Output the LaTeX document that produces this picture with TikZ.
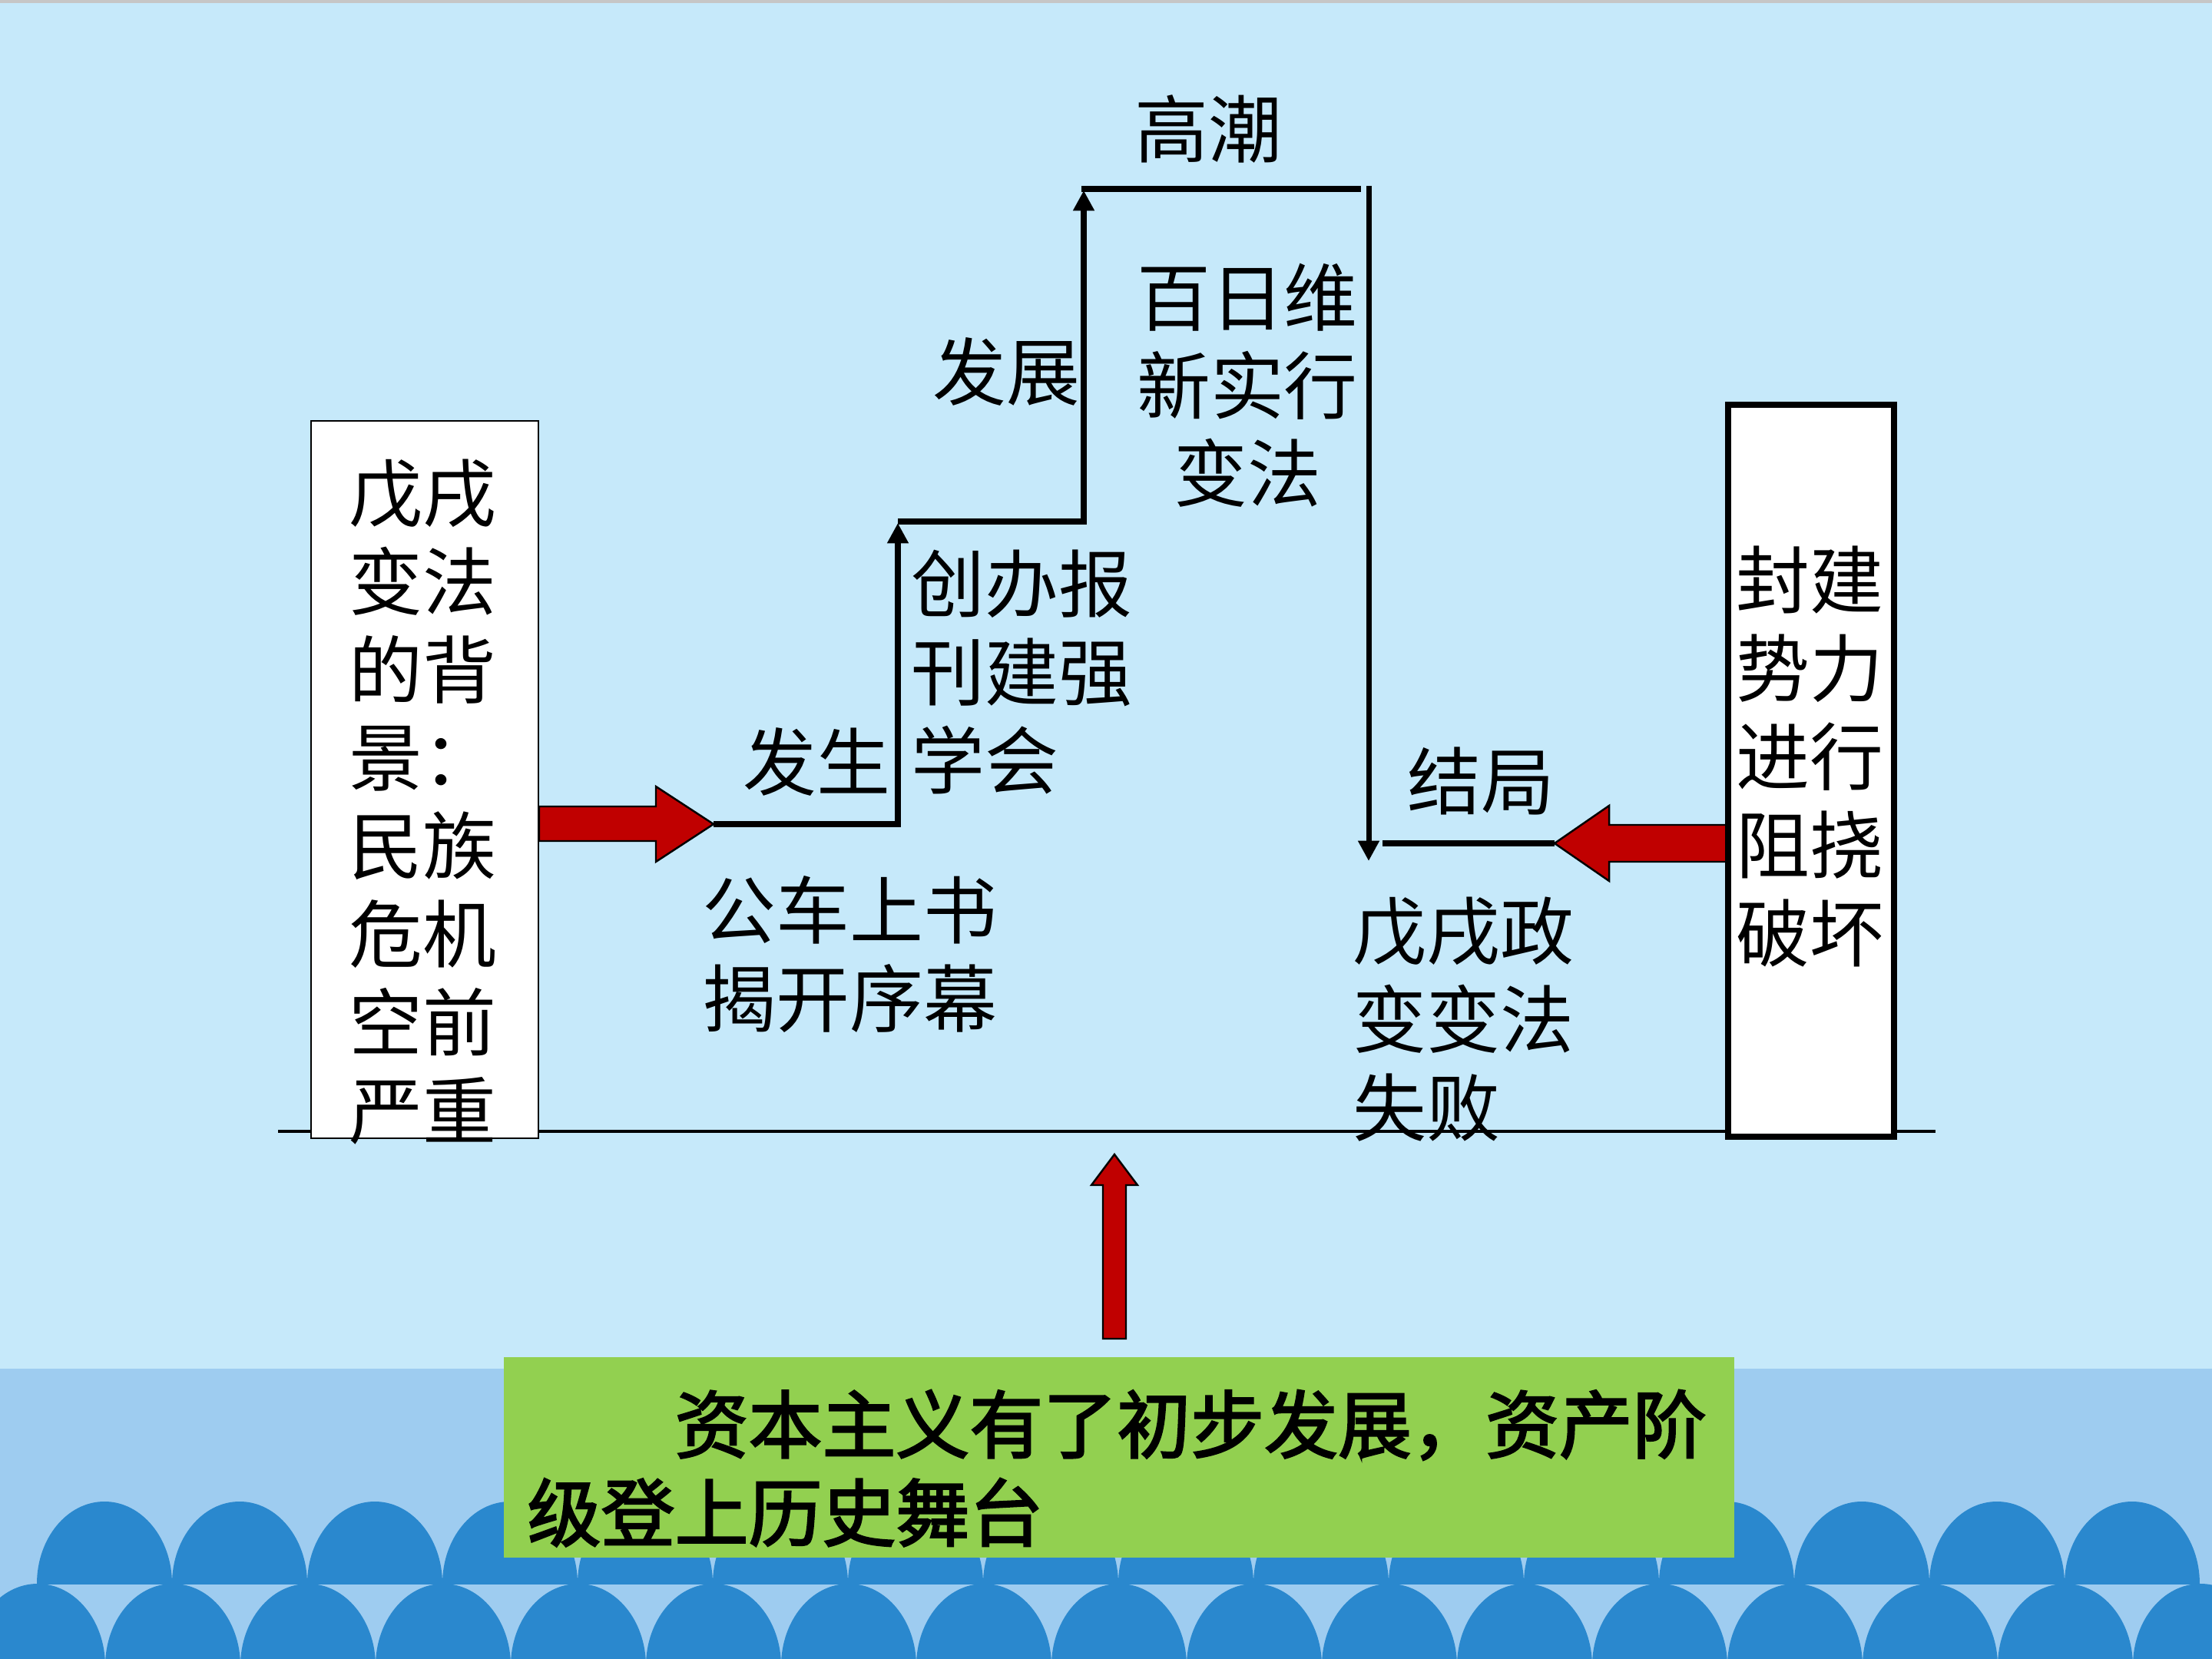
\documentclass[tikz,border=0pt]{standalone}
\usepackage{fontspec}
\setmainfont{Noto Sans CJK SC}
\newfontfamily\capfont[FakeBold=2.5]{Noto Sans CJK SC}
\usetikzlibrary{arrows.meta}

\definecolor{skyback}{RGB}{198,233,250}
\definecolor{seaband}{RGB}{158,204,240}
\definecolor{wavefill}{RGB}{42,136,206}
\definecolor{capgreen}{RGB}{146,208,80}
\definecolor{pushred}{RGB}{192,0,0}

\begin{document}
\begin{tikzpicture}[x=1cm,y=-1cm,
    txt/.style={font=\fontsize{27.3pt}{32.7pt}\selectfont,inner sep=0pt,align=left},
    stairline/.style={line width=2pt},
    stairrise/.style={line width=2pt,-{Triangle[width=7.5pt,length=7.5pt]}},
    pusharrow/.style={fill=pushred,draw=black,line width=0.7pt},
    panel/.style={draw,fill=white,inner sep=0pt,outer sep=0pt,anchor=north west}]
  \useasboundingbox (0,0) rectangle (28.8,21.6);
  \fill[skyback] (0,0) rectangle (28.8,21.6);
  \fill[gray!45] (0,0) rectangle (28.8,0.04);

  % sea band, two rows of waves
  \fill[seaband] (0,17.82) rectangle (28.8,21.6);
  \begin{scope}
    \clip (0,17.82) rectangle (28.8,20.62);
    \foreach \i in {0,...,15}
      \fill[wavefill] (1.36+1.76*\i,20.62) ellipse [x radius=0.88cm,y radius=1.07cm];
  \end{scope}
  \begin{scope}
    \clip (0,20.62) rectangle (28.8,21.6);
    \foreach \i in {0,...,16}
      \fill[wavefill] (0.49+1.76*\i,21.69) ellipse [x radius=0.88cm,y radius=1.07cm];
  \end{scope}

  % caption
  \node[fill=capgreen,inner sep=0pt,outer sep=0pt,anchor=north west,
        minimum width=16.02cm,minimum height=2.61cm] (capbox) at (6.56,17.67) {};
  \node[txt,anchor=north west,font=\capfont\fontsize{27.3pt}{32.7pt}\selectfont] (captext) at (6.86,18.09)
    {\hspace*{2em}资本主义有了初步发展，资产阶\\级登上历史舞台};

  % ground line
  \coordinate (groundL) at (3.62,14.73);
  \coordinate (groundR) at (25.20,14.73);
  \draw[line width=1pt] (groundL) -- (groundR);

  % red push arrows
  \coordinate (tipA) at (9.29,10.73);
  \coordinate (tipB) at (20.24,10.98);
  \coordinate (tipC) at (14.51,15.03);
  \filldraw[pusharrow] (tipA) -- ++(-0.75,-0.49) -- ++(0,0.26) -- ++(-1.52,0)
    -- ++(0,0.45) -- ++(1.52,0) -- ++(0,0.27) -- cycle;
  \filldraw[pusharrow] (tipB) -- ++(0.71,-0.49) -- ++(0,0.25) -- ++(1.56,0)
    -- ++(0,0.48) -- ++(-1.56,0) -- ++(0,0.25) -- cycle;
  \filldraw[pusharrow] (tipC) -- ++(-0.30,0.40) -- ++(0.15,0) -- ++(0,2.00)
    -- ++(0.30,0) -- ++(0,-2.00) -- ++(0.15,0) -- cycle;

  % side boxes
  \node[panel,line width=0.8pt,minimum width=2.96cm,minimum height=9.34cm] (bgbox) at (4.05,5.48) {};
  \node[txt,anchor=north west] (bgtext) at (4.54,5.97) {戊戌\\变法\\的背\\景：\\民族\\危机\\空前\\严重};
  \node[panel,line width=2.2pt,minimum width=2.16cm,minimum height=9.53cm] (fjbox) at (22.50,5.27) {};
  \node[txt,anchor=north west] (fjtext) at (22.60,7.10) {封建\\势力\\进行\\阻挠\\破坏};

  % stage labels
  \node[txt,anchor=north] (peak) at (15.73,1.23) {高潮};
  \node[txt,anchor=north east] (grow) at (14.07,4.39) {发展};
  \node[txt,anchor=north,align=center] (reform) at (16.24,3.42) {百日维\\新实行\\变法};
  \node[txt,anchor=north west] (press) at (11.86,7.15) {创办报\\刊建强\\学会};
  \node[txt,anchor=north west] (begin) at (9.67,9.47) {发生};
  \node[txt,anchor=north west] (petition) at (9.14,11.40) {公车上书\\揭开序幕};
  \node[txt,anchor=north west] (ending) at (18.32,9.72) {结局};
  \node[txt,anchor=north west] (coup) at (17.61,11.67) {戊戌政\\变变法\\失败};

  % staircase
  \coordinate (riseA) at (11.69,10.73);
  \coordinate (topA) at (11.69,6.81);
  \coordinate (landA) at (11.69,6.79);
  \coordinate (riseB) at (14.11,6.79);
  \coordinate (topB) at (14.11,2.48);
  \coordinate (peakL) at (14.08,2.46);
  \coordinate (peakR) at (17.72,2.46);
  \coordinate (fallT) at (17.82,2.425);
  \coordinate (fallB) at (17.82,11.21);
  \coordinate (endL) at (18.00,10.98);
  \draw[stairrise] (tipA) -- (riseA) -- (topA);
  \draw[stairrise] (landA) -- (riseB) -- (topB);
  \draw[stairline] (peakL) -- (peakR);
  \draw[stairrise] (fallT) -- (fallB);
  \draw[stairline] (endL) -- (tipB);
\end{tikzpicture}
\end{document}
